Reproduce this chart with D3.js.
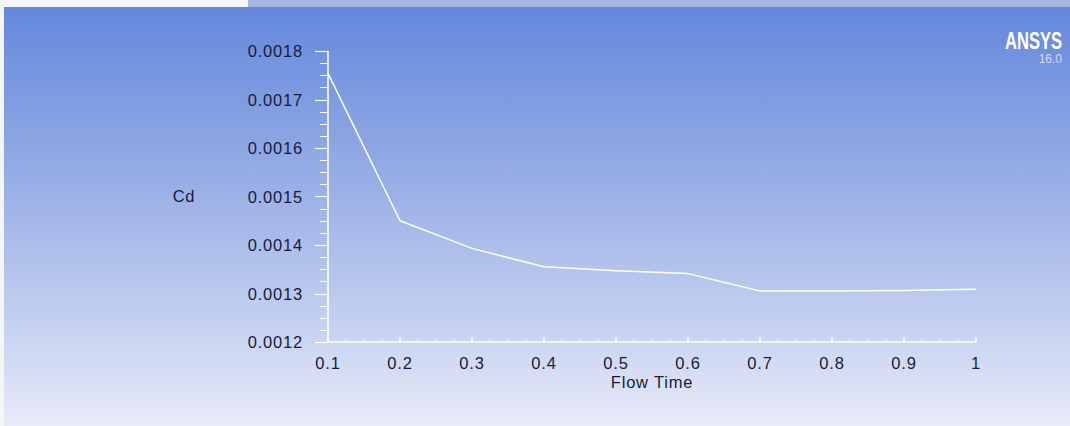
<!DOCTYPE html>
<html>
<head>
<meta charset="utf-8">
<script src="https://cdn.jsdelivr.net/npm/d3@7"></script>
<style>
  body { margin: 0; padding: 0; background: #ffffff; }
  svg { display: block; }
  .tick-label { font-family: "Liberation Sans", Arial, sans-serif; font-size: 16.5px; fill: #161c3a; letter-spacing: 0.8px; }
</style>
</head>
<body>
<svg id="chart" width="1070" height="426"></svg>
<script>
// values
const flowTime = [0.1, 0.2, 0.3, 0.4, 0.5, 0.6, 0.7, 0.8, 0.9, 1.0];
const cdValues = [0.001754, 0.001450, 0.001393, 0.001355, 0.001347, 0.001341, 0.001305, 0.001305, 0.001306, 0.001309];
const xTicks = [0.1, 0.2, 0.3, 0.4, 0.5, 0.6, 0.7, 0.8, 0.9, 1];
const yTicks = [0.0012, 0.0013, 0.0014, 0.0015, 0.0016, 0.0017, 0.0018];

const svg = d3.select("#chart");
const W = 1070, H = 426;

// background gradient
const defs = svg.append("defs");
const grad = defs.append("linearGradient")
    .attr("id", "bg")
    .attr("x1", 0).attr("y1", 0).attr("x2", 0).attr("y2", 1);
grad.append("stop").attr("offset", "0%").attr("stop-color", "#6488dc");
grad.append("stop").attr("offset", "45%").attr("stop-color", "#9cb1e6");
grad.append("stop").attr("offset", "75%").attr("stop-color", "#c4d0f0");
grad.append("stop").attr("offset", "100%").attr("stop-color", "#e8ebf8");

svg.append("rect").attr("x", 0).attr("y", 0).attr("width", W).attr("height", H).attr("fill", "#f4f5f6");
svg.append("rect").attr("x", 4).attr("y", 7).attr("width", W - 4).attr("height", H - 7).attr("fill", "url(#bg)");
// top strip right of the white part
svg.append("rect").attr("x", 248).attr("y", 0).attr("width", W - 248).attr("height", 7).attr("fill", "#a4b6de");

const x = d3.scaleLinear().domain([0.1, 1]).range([328, 976]);
const y = d3.scaleLinear().domain([0.0012, 0.0018]).range([342, 51]);

const g = svg.append("g");

// minor ticks
const xMinor = d3.range(0.1, 1.0001, 0.025);
const yMinor = d3.range(0.0012, 0.00180001, 0.000025);

g.selectAll(".xminor").data(xMinor).join("line")
    .attr("x1", d => x(d)).attr("x2", d => x(d))
    .attr("y1", y(0.0012)).attr("y2", y(0.0012) - 3)
    .attr("stroke", "#ffffff").attr("stroke-width", 1).attr("opacity", 0.8);

g.selectAll(".yminor").data(yMinor).join("line")
    .attr("x1", 320).attr("x2", x(0.1))
    .attr("y1", d => Math.round(y(d)) + 0.5).attr("y2", d => Math.round(y(d)) + 0.5)
    .attr("stroke", "#ffffff").attr("stroke-width", 1);

// major ticks
g.selectAll(".xmajor").data(xTicks).join("line")
    .attr("x1", d => x(d)).attr("x2", d => x(d))
    .attr("y1", y(0.0012)).attr("y2", y(0.0012) - 5)
    .attr("stroke", "#ffffff").attr("stroke-width", 1.2);

g.selectAll(".ymajor").data(yTicks).join("line")
    .attr("x1", 315).attr("x2", x(0.1))
    .attr("y1", d => Math.round(y(d)) + 0.5).attr("y2", d => Math.round(y(d)) + 0.5)
    .attr("stroke", "#ffffff").attr("stroke-width", 1.2);

// axis lines
g.append("line")
    .attr("x1", x(0.1)).attr("x2", x(0.1))
    .attr("y1", y(0.0012)).attr("y2", y(0.0018))
    .attr("stroke", "#ffffff").attr("stroke-width", 1.6);
g.append("line")
    .attr("x1", x(0.1)).attr("x2", x(1))
    .attr("y1", y(0.0012)).attr("y2", y(0.0012))
    .attr("stroke", "#ffffff").attr("stroke-width", 1.6);

// tick labels
g.selectAll(".xlab").data(xTicks).join("text")
    .attr("class", "tick-label")
    .attr("x", d => x(d))
    .attr("y", 369)
    .attr("text-anchor", "middle")
    .text(d => d3.format("")(d));

g.selectAll(".ylab").data(yTicks).join("text")
    .attr("class", "tick-label")
    .attr("x", 303)
    .attr("y", d => y(d) + 6)
    .attr("text-anchor", "end")
    .text(d => d.toFixed(4));

// axis titles
g.append("text").attr("class", "tick-label")
    .attr("x", (x(0.1) + x(1)) / 2)
    .attr("y", 388)
    .attr("text-anchor", "middle")
    .text("Flow Time");

g.append("text").attr("class", "tick-label")
    .attr("x", 184)
    .attr("y", 202)
    .attr("text-anchor", "middle")
    .text("Cd");

// data line
const line = d3.line()
    .x((d, i) => x(flowTime[i]))
    .y(d => y(d));

g.append("path")
    .datum(cdValues)
    .attr("d", line)
    .attr("fill", "none")
    .attr("stroke", "#ffffff")
    .attr("stroke-width", 1.5)
    .attr("stroke-linejoin", "round");

// logo (condensed by a horizontal scale)
svg.append("text")
    .attr("transform", "translate(1062,48.5) scale(0.72,1)")
    .attr("text-anchor", "end")
    .style("font-family", "'Liberation Sans', Arial, sans-serif")
    .style("font-weight", "bold").style("font-size", "23px")
    .attr("fill", "#ffffff")
    .text("ANSYS");
svg.append("text")
    .attr("x", 1062).attr("y", 63)
    .attr("text-anchor", "end")
    .style("font-family", "'Liberation Sans', Arial, sans-serif")
    .style("font-size", "12px")
    .attr("fill", "#d0daf2")
    .text("16.0");
</script>
</body>
</html>
